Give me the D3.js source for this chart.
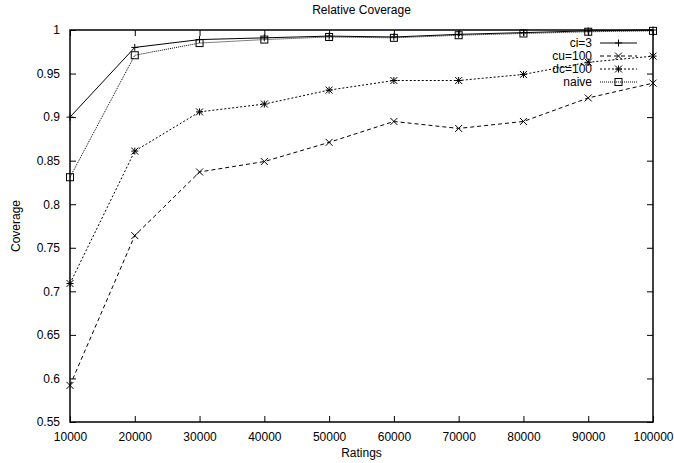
<!DOCTYPE html>
<html>
<head>
<meta charset="utf-8">
<script src="https://d3js.org/d3.v7.min.js"></script>
<style>
  body { margin: 0; background: #fff; }
  text { font-family: "Liberation Sans", Arial, sans-serif; font-size: 12px; fill: #000; }
</style>
</head>
<body>
<div id="chart"></div>
<script>
// data
var ratings = [10000, 20000, 30000, 40000, 50000, 60000, 70000, 80000, 90000, 100000];
var ci3   = [0.900, 0.980, 0.989, 0.991, 0.993, 0.992, 0.995, 0.997, 0.999, 1.000];
var cu100 = [0.592, 0.764, 0.837, 0.849, 0.871, 0.895, 0.887, 0.895, 0.922, 0.939];
var dc100 = [0.709, 0.861, 0.906, 0.915, 0.931, 0.942, 0.942, 0.949, 0.963, 0.970];
var naive = [0.831, 0.971, 0.985, 0.989, 0.992, 0.991, 0.994, 0.996, 0.998, 0.999];
var yTicks = [0.55, 0.6, 0.65, 0.7, 0.75, 0.8, 0.85, 0.9, 0.95, 1];

var series = [
  {name: "ci=3",   values: ci3,   dash: null,  marker: "plus"},
  {name: "cu=100", values: cu100, dash: "4,3", marker: "cross"},
  {name: "dc=100", values: dc100, dash: "2,2", marker: "star"},
  {name: "naive",  values: naive, dash: "1,1", marker: "square"}
];

var W = 674, H = 463;
var margin = {top: 30, right: 21, bottom: 41, left: 70},
    width = W - margin.left - margin.right,
    height = H - margin.top - margin.bottom;

var svg = d3.select("#chart").append("svg")
    .attr("width", W).attr("height", H);
var g = svg.append("g")
    .attr("transform", "translate(" + margin.left + "," + margin.top + ")");

var x = d3.scaleLinear().domain([10000, 100000]).range([0, width]);
var y = d3.scaleLinear().domain([0.55, 1]).range([height, 0]);

// axes with inward ticks, mirrored like gnuplot
var tickLen = 6;
g.append("g").attr("transform", "translate(0," + height + ")")
  .call(d3.axisBottom(x).tickValues(ratings).tickSizeInner(-tickLen).tickSizeOuter(0).tickPadding(10).tickFormat(d3.format("d")));
g.append("g")
  .call(d3.axisTop(x).tickValues(ratings).tickSizeInner(-tickLen).tickSizeOuter(0).tickFormat(""));
g.append("g")
  .call(d3.axisLeft(y).tickValues(yTicks).tickSizeInner(-tickLen).tickSizeOuter(0).tickPadding(10).tickFormat(d3.format("")));
g.append("g").attr("transform", "translate(" + width + ",0)")
  .call(d3.axisRight(y).tickValues(yTicks).tickSizeInner(-tickLen).tickSizeOuter(0).tickFormat(""));
g.selectAll(".domain").remove();
g.selectAll(".tick line").attr("stroke", "#000");
g.selectAll(".tick text").style("font-size", "12px").style("font-family", "Liberation Sans, Arial, sans-serif");

g.append("rect").attr("width", width).attr("height", height)
  .attr("fill", "none").attr("stroke", "#000").attr("stroke-width", 1.5);

function drawMarker(sel, type, cx, cy) {
  var s = 3.5;
  if (type === "plus" || type === "star") {
    sel.append("path").attr("d", "M" + (cx - s) + "," + cy + "H" + (cx + s) + "M" + cx + "," + (cy - s) + "V" + (cy + s));
  }
  if (type === "cross" || type === "star") {
    sel.append("path").attr("d", "M" + (cx - s) + "," + (cy - s) + "L" + (cx + s) + "," + (cy + s) + "M" + (cx - s) + "," + (cy + s) + "L" + (cx + s) + "," + (cy - s));
  }
  if (type === "square") {
    sel.append("rect").attr("x", cx - s).attr("y", cy - s).attr("width", 2 * s).attr("height", 2 * s).attr("fill", "none");
  }
}

var line = d3.line()
  .x(function(d, i) { return x(ratings[i]); })
  .y(function(d) { return y(d); });

var plot = g.append("g");
series.forEach(function(s) {
  plot.append("path").datum(s.values)
    .attr("d", line)
    .attr("fill", "none").attr("stroke", "#000").attr("stroke-width", 1)
    .attr("stroke-dasharray", s.dash);
  var m = plot.append("g").attr("stroke", "#000").attr("stroke-width", 1).attr("fill", "none");
  s.values.forEach(function(v, i) { drawMarker(m, s.marker, x(ratings[i]), y(v)); });
});

// legend
var legend = g.append("g");
series.forEach(function(s, i) {
  var ly = 13 + i * 13;
  legend.append("text").attr("x", 522).attr("y", ly).attr("dy", "0.35em")
    .attr("text-anchor", "end").text(s.name);
  legend.append("line").attr("x1", 530).attr("x2", 567).attr("y1", ly).attr("y2", ly)
    .attr("stroke", "#000").attr("stroke-width", 1).attr("stroke-dasharray", s.dash);
  var m = legend.append("g").attr("stroke", "#000").attr("stroke-width", 1).attr("fill", "none");
  drawMarker(m, s.marker, 548.5, ly);
});

// titles
svg.append("text").attr("x", margin.left + width / 2).attr("y", 14)
  .attr("text-anchor", "middle").text("Relative Coverage");
svg.append("text").attr("x", margin.left + width / 2).attr("y", 457)
  .attr("text-anchor", "middle").text("Ratings");
svg.append("text").attr("transform", "translate(20," + (margin.top + height / 2) + ") rotate(-90)")
  .attr("text-anchor", "middle").text("Coverage");
</script>
</body>
</html>
